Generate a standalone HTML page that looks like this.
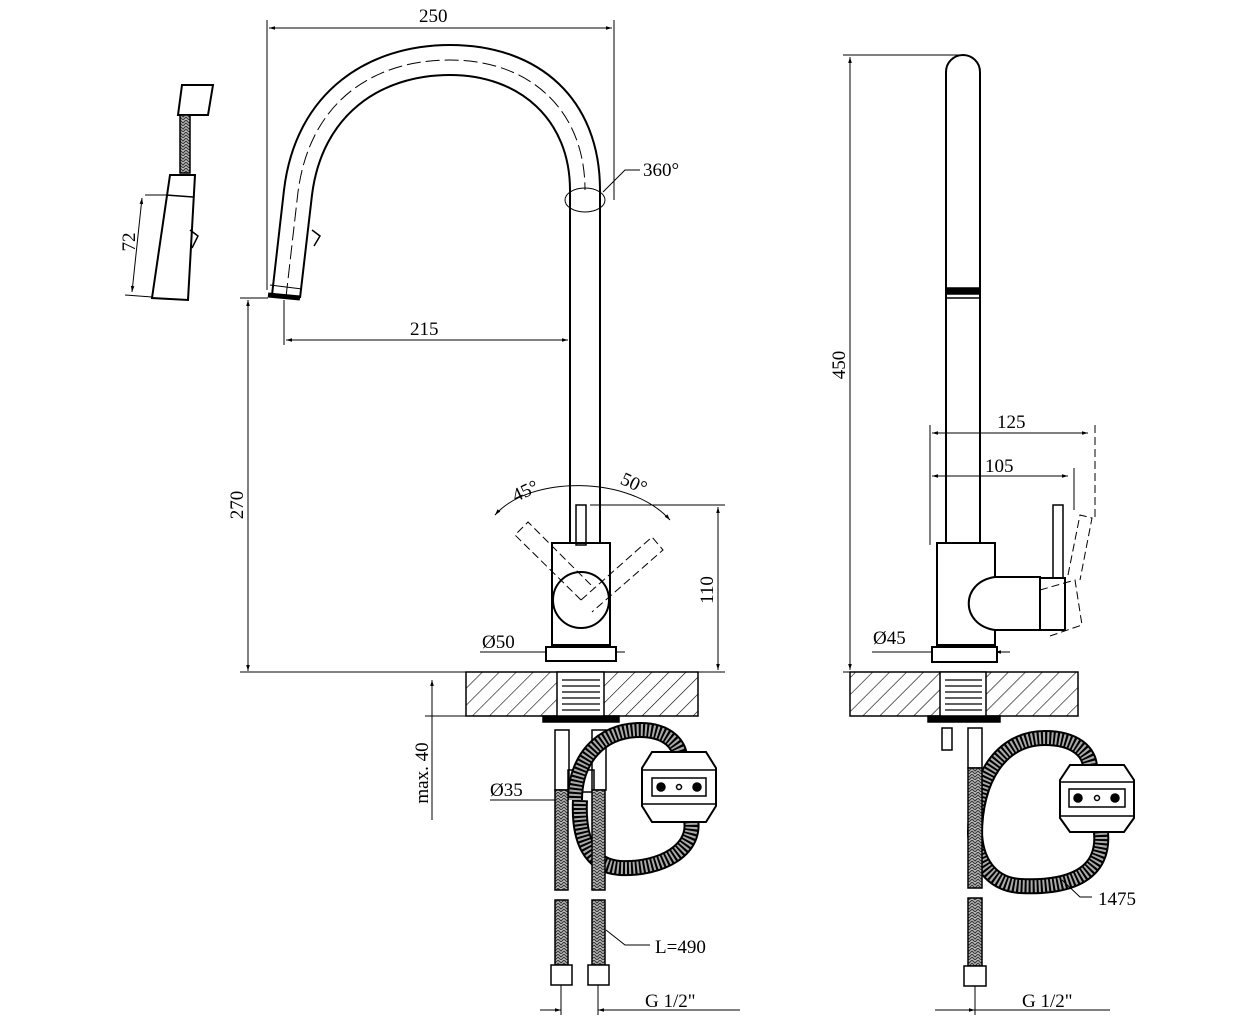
<!DOCTYPE html>
<html><head><meta charset="utf-8"><style>
html,body{margin:0;padding:0;background:#fff}
svg{display:block}
text{font-family:"Liberation Serif",serif;font-size:19px;fill:#000}
</style></head><body>
<svg width="1252" height="1024" viewBox="0 0 1252 1024" xmlns="http://www.w3.org/2000/svg">
<defs>
<pattern id="h" width="12" height="12" patternUnits="userSpaceOnUse" patternTransform="rotate(45)">
<line x1="0" y1="0" x2="0" y2="12" stroke="#000" stroke-width="1.2"/>
</pattern>
<pattern id="z" width="6" height="6" patternUnits="userSpaceOnUse">
<rect width="6" height="6" fill="#bbb"/><path d="M0,0 L3,3 L6,0 M0,3 L3,6 L6,3" stroke="#333" stroke-width="1" fill="none"/>
</pattern>
<marker id="a" viewBox="0 0 10 10" refX="10" refY="5" markerWidth="10" markerHeight="6" orient="auto-start-reverse"><path d="M0,2 L10,5 L0,8 z" fill="#000"/></marker>
</defs>
<g fill="none" stroke="#000" stroke-width="1.5">

<line x1="267" y1="20" x2="267" y2="290" stroke-width="1"/>
<line x1="614" y1="20" x2="614" y2="200" stroke-width="1"/>
<line x1="269" y1="28" x2="612" y2="28" stroke-width="1" marker-start="url(#a)" marker-end="url(#a)"/>
<path d="M272 295 L284 190 C296 90 370 45 450 45 C540 45 600 100 600 190 L600 543" stroke-width="2"/>
<path d="M300 298 L312 195 C322 115 380 75 450 75 C520 75 570 120 570 190 L570 543" stroke-width="2"/>
<path d="M286 297 L298 192 C310 100 375 60 450 60 C530 60 585 110 585 190" stroke-width="1" stroke-dasharray="14 5"/>
<path d="M270 285 L302 289" stroke-width="1"/>
<path d="M268 295 L300 298" stroke-width="5"/>
<path d="M312 230 l8 6 l-6 10" stroke-width="1.5"/>
<ellipse cx="585" cy="200" rx="20" ry="12" stroke-width="1"/>
<path d="M603 192 L625 170 L640 170" stroke-width="1"/>
<line x1="284" y1="300" x2="284" y2="345" stroke-width="1"/>
<line x1="286" y1="340" x2="568" y2="340" stroke-width="1" marker-start="url(#a)" marker-end="url(#a)"/>
<line x1="248" y1="300" x2="248" y2="671" stroke-width="1" marker-start="url(#a)" marker-end="url(#a)"/>
<line x1="240" y1="298" x2="268" y2="298" stroke-width="1"/>
<line x1="240" y1="672" x2="548" y2="672" stroke-width="1"/>
<rect x="552" y="543" width="58" height="102" stroke-width="2" fill="#fff"/>
<circle cx="581" cy="600" r="28" stroke-width="2"/>
<rect x="576" y="505" width="10" height="40" stroke-width="1.5"/>
<path d="M581 600 L515 535 L528 522 L594 588" stroke-width="1" stroke-dasharray="8 4"/>
<path d="M581 600 L652 537 L663 550 L592 612" stroke-width="1" stroke-dasharray="8 4"/>
<path d="M495 515 C530 475 630 475 670 520" stroke-width="1" marker-start="url(#a)" marker-end="url(#a)"/>
<line x1="590" y1="505" x2="725" y2="505" stroke-width="1"/>
<line x1="718" y1="507" x2="718" y2="670" stroke-width="1" marker-start="url(#a)" marker-end="url(#a)"/>
<line x1="616" y1="672" x2="725" y2="672" stroke-width="1"/>
<line x1="480" y1="652" x2="552" y2="652" stroke-width="1" marker-end="url(#a)"/>
<line x1="610" y1="652" x2="625" y2="652" stroke-width="1" marker-start="url(#a)"/>
<rect x="546" y="647" width="70" height="14" stroke-width="2" fill="#fff"/>
<rect x="466" y="672" width="232" height="44" fill="url(#h)" stroke-width="1.5"/>
<rect x="557" y="672" width="47" height="46" fill="#fff" stroke-width="1.5"/>
<g stroke-width="1.2"><line x1="562" y1="680" x2="600" y2="680"/><line x1="562" y1="686" x2="600" y2="686"/><line x1="562" y1="692" x2="600" y2="692"/><line x1="562" y1="698" x2="600" y2="698"/><line x1="562" y1="704" x2="600" y2="704"/><line x1="562" y1="710" x2="600" y2="710"/></g>
<rect x="543" y="716" width="76" height="6" fill="#000"/>
<line x1="432" y1="680" x2="432" y2="716" stroke-width="1" marker-start="url(#a)"/>
<line x1="425" y1="716" x2="466" y2="716" stroke-width="1"/>
<line x1="432" y1="716" x2="432" y2="820" stroke-width="1"/>
<rect x="555" y="730" width="14" height="60" stroke-width="1.5"/>
<rect x="592" y="730" width="14" height="60" stroke-width="1.5"/>
<rect x="568" y="770" width="26" height="22" stroke-width="1.5"/>
<line x1="490" y1="800" x2="555" y2="800" stroke-width="1"/>
<g stroke="#000" stroke-width="16">
<path d="M575 800 C575 760 600 730 640 730 C668 730 680 745 680 758"/>
<path d="M690 815 C700 850 660 870 620 868 C590 866 578 840 580 800"/>
<path d="M975 835 C975 780 1000 738 1045 738 C1075 738 1090 752 1090 768"/>
<path d="M1100 825 C1110 880 1060 888 1020 886 C990 884 975 860 975 830"/>
</g>
<g stroke="#aaa" stroke-width="12" stroke-dasharray="2 2">
<path d="M575 800 C575 760 600 730 640 730 C668 730 680 745 680 758"/>
<path d="M690 815 C700 850 660 870 620 868 C590 866 578 840 580 800"/>
<path d="M975 835 C975 780 1000 738 1045 738 C1075 738 1090 752 1090 768"/>
<path d="M1100 825 C1110 880 1060 888 1020 886 C990 884 975 860 975 830"/>
</g>
<g stroke-width="1.5">
<rect x="555" y="790" width="13" height="100" fill="url(#z)"/>
<rect x="592" y="790" width="13" height="100" fill="url(#z)"/>
<rect x="555" y="900" width="13" height="65" fill="url(#z)"/>
<rect x="592" y="900" width="13" height="65" fill="url(#z)"/>
<rect x="551" y="965" width="21" height="20" fill="#fff"/>
<rect x="588" y="965" width="21" height="20" fill="#fff"/>
</g>
<path d="M652 752 L706 752 L716 768 L716 806 L706 822 L652 822 L642 806 L642 768 Z" fill="#fff" stroke-width="2"/>
<line x1="642" y1="770" x2="716" y2="770" stroke-width="1.5"/><line x1="642" y1="804" x2="716" y2="804" stroke-width="1.5"/>
<rect x="652" y="778" width="54" height="18" stroke-width="1.5"/>
<circle cx="661" cy="787" r="4" fill="#000"/><circle cx="697" cy="787" r="4" fill="#000"/><circle cx="679" cy="787" r="2.5"/>
<path d="M606 930 L625 945 L650 945" stroke-width="1"/>
<line x1="561" y1="985" x2="561" y2="1015" stroke-width="1"/>
<line x1="598" y1="985" x2="598" y2="1015" stroke-width="1"/>
<line x1="610" y1="1010" x2="740" y2="1010" stroke-width="1"/>
<line x1="540" y1="1010" x2="561" y2="1010" stroke-width="1" marker-end="url(#a)"/>
<line x1="598" y1="1010" x2="620" y2="1010" stroke-width="1" marker-start="url(#a)"/>

<path d="M182 85 L213 85 L208 115 L178 115 Z" stroke-width="2"/>
<rect x="180" y="115" width="10" height="58" fill="url(#z)" stroke-width="1.5"/>
<path d="M170 175 L195 175 L188 300 L152 298 Z" stroke-width="2"/>
<path d="M166 195 L193 197" stroke-width="1.5"/>
<path d="M190 230 l8 6 l-6 12" stroke-width="1.5"/>
<line x1="145" y1="195" x2="168" y2="195" stroke-width="1"/>
<line x1="125" y1="295" x2="152" y2="297" stroke-width="1"/>
<line x1="142" y1="198" x2="132" y2="292" stroke-width="1" marker-start="url(#a)" marker-end="url(#a)"/>

<line x1="843" y1="55" x2="965" y2="55" stroke-width="1"/>
<line x1="850" y1="57" x2="850" y2="670" stroke-width="1" marker-start="url(#a)" marker-end="url(#a)"/>
<line x1="843" y1="672" x2="935" y2="672" stroke-width="1"/>
<path d="M946 545 L946 72 A17 17 0 0 1 980 72 L980 545" stroke-width="2"/>
<rect x="946" y="288" width="34" height="6" fill="#000"/>
<line x1="946" y1="298" x2="980" y2="298" stroke-width="1.5"/>
<line x1="930" y1="425" x2="930" y2="545" stroke-width="1"/>
<line x1="932" y1="433" x2="1088" y2="433" stroke-width="1" marker-start="url(#a)" marker-end="url(#a)"/>
<line x1="1095" y1="425" x2="1095" y2="520" stroke-width="1" stroke-dasharray="8 4"/>
<line x1="932" y1="476" x2="1068" y2="476" stroke-width="1" marker-start="url(#a)" marker-end="url(#a)"/>
<line x1="1074" y1="468" x2="1074" y2="510" stroke-width="1"/>
<rect x="937" y="543" width="58" height="102" stroke-width="2" fill="#fff"/>
<path d="M995 577 L1040 577 L1040 630 L995 630 C960 625 960 582 995 577 Z" stroke-width="2" fill="#fff"/>
<rect x="1040" y="578" width="25" height="52" stroke-width="2"/>
<rect x="1053" y="505" width="10" height="73" stroke-width="1.5"/>
<path d="M1040 590 L1075 580 L1082 625 L1050 636" stroke-width="1" stroke-dasharray="8 4"/>
<path d="M1068 575 L1080 515 L1092 518 L1080 580" stroke-width="1" stroke-dasharray="8 4"/>
<line x1="872" y1="652" x2="937" y2="652" stroke-width="1" marker-end="url(#a)"/>
<line x1="995" y1="652" x2="1010" y2="652" stroke-width="1" marker-start="url(#a)"/>
<rect x="932" y="647" width="65" height="15" stroke-width="2" fill="#fff"/>
<rect x="850" y="672" width="228" height="44" fill="url(#h)" stroke-width="1.5"/>
<rect x="940" y="672" width="46" height="46" fill="#fff" stroke-width="1.5"/>
<g stroke-width="1.2"><line x1="945" y1="680" x2="982" y2="680"/><line x1="945" y1="686" x2="982" y2="686"/><line x1="945" y1="692" x2="982" y2="692"/><line x1="945" y1="698" x2="982" y2="698"/><line x1="945" y1="704" x2="982" y2="704"/><line x1="945" y1="710" x2="982" y2="710"/></g>
<rect x="928" y="716" width="72" height="6" fill="#000"/>
<rect x="942" y="728" width="10" height="22" stroke-width="1.5"/>
<rect x="968" y="728" width="14" height="40" stroke-width="1.5"/>
<rect x="968" y="768" width="14" height="120" fill="url(#z)" stroke-width="1.5"/>
<rect x="968" y="898" width="14" height="68" fill="url(#z)" stroke-width="1.5"/>
<rect x="964" y="966" width="22" height="20" fill="#fff" stroke-width="1.5"/>
<path d="M1070 765 L1124 765 L1134 780 L1134 818 L1124 832 L1070 832 L1060 818 L1060 780 Z" fill="#fff" stroke-width="2"/>
<line x1="1060" y1="782" x2="1134" y2="782" stroke-width="1.5"/><line x1="1060" y1="816" x2="1134" y2="816" stroke-width="1.5"/>
<rect x="1069" y="789" width="56" height="18" stroke-width="1.5"/>
<circle cx="1078" cy="798" r="4" fill="#000"/><circle cx="1115" cy="798" r="4" fill="#000"/><circle cx="1097" cy="798" r="2.5"/>
<path d="M1062 880 L1080 897 L1092 897" stroke-width="1"/>
<line x1="975" y1="986" x2="975" y2="1015" stroke-width="1"/>
<line x1="935" y1="1010" x2="975" y2="1010" stroke-width="1" marker-end="url(#a)"/>
<line x1="975" y1="1010" x2="1110" y2="1010" stroke-width="1"/>
</g>

<text x="419" y="22">250</text>
<text x="643" y="176">360°</text>
<text x="410" y="335">215</text>
<text x="512" y="495" transform="rotate(-25 530 490)">45°</text>
<text x="620" y="490" transform="rotate(25 635 485)">50°</text>
<text x="243" y="505" transform="rotate(-90 243 505)" text-anchor="middle">270</text>
<text x="713" y="590" transform="rotate(-90 713 590)" text-anchor="middle">110</text>
<text x="482" y="648">Ø50</text>
<text x="490" y="796">Ø35</text>
<text x="428" y="773" transform="rotate(-90 428 773)" text-anchor="middle">max. 40</text>
<text x="655" y="953">L=490</text>
<text x="645" y="1007">G 1/2"</text>
<text x="135" y="242" transform="rotate(-90 135 242)" text-anchor="middle">72</text>
<text x="845" y="365" transform="rotate(-90 845 365)" text-anchor="middle">450</text>
<text x="997" y="428">125</text>
<text x="985" y="472">105</text>
<text x="873" y="644">Ø45</text>
<text x="1098" y="905">1475</text>
<text x="1022" y="1007">G 1/2"</text>
</svg>
</body></html>
